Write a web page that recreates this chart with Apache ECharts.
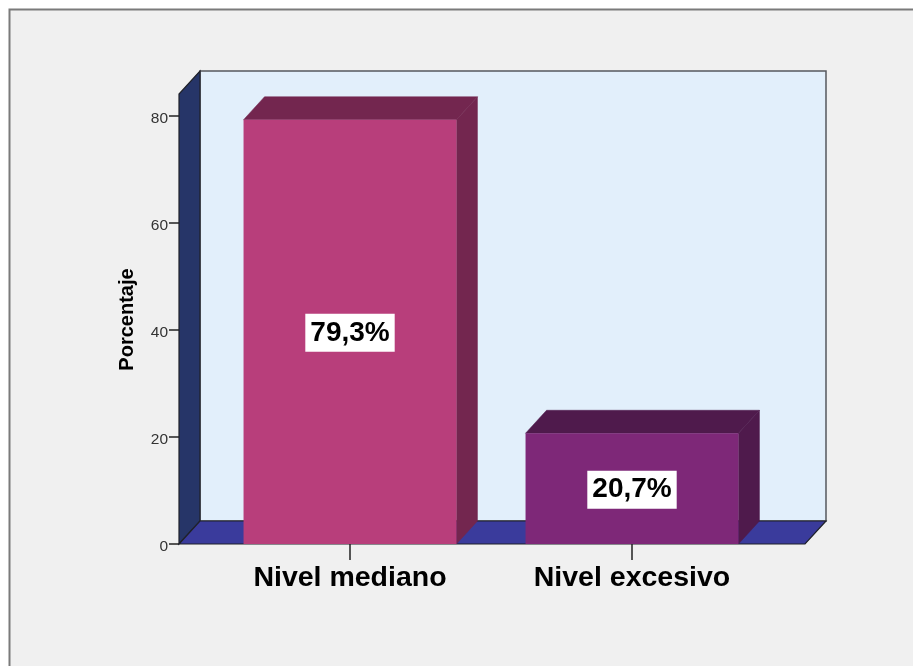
<!DOCTYPE html>
<html>
<head>
<meta charset="utf-8">
<style>html,body{margin:0;padding:0;background:#fff}#c{width:913px;height:666px}</style>
<script src="https://cdn.jsdelivr.net/npm/echarts@6/dist/echarts.min.js"></script>
</head>
<body>
<div id="c"></div>
<script>
const categories = ['Nivel mediano', 'Nivel excesivo'];
const percentages = [79.3, 20.7];
const percentLabels = ['79,3%', '20,7%'];
const frontColors = ['#b83e7b', '#7e2878'];
const shadeColors = ['#73264f', '#4f1a4c'];
const yTicks = [0, 20, 40, 60, 80];
const wallTop = 84.1;

const DX = 21, DY = 23, FONT = '"Liberation Sans", Arial, sans-serif';
const chart = echarts.init(document.getElementById('c'), null, {renderer: 'canvas'});

function poly(points, fill, stroke, lw) {
  return {type: 'polygon', shape: {points}, style: {fill, stroke: stroke || null, lineWidth: lw || 0}};
}

function renderWalls(params, api) {
  const cs = params.coordSys;
  const l = cs.x - 30, r = cs.x + cs.width + 32;
  const y0 = api.coord([0, 0])[1];
  const yT = api.coord([0, api.value(0)])[1];
  const edge = '#1f2129';
  return {type: 'group', children: [
    poly([[l + DX, yT - DY], [r + DX, yT - DY], [r + DX, y0 - DY], [l + DX, y0 - DY]], '#e2effb', '#55585e', 1.5),
    poly([[l, y0], [l + DX, y0 - DY], [l + DX, yT - DY], [l, yT]], '#263568', edge, 1.2),
    poly([[l, y0], [r, y0], [r + DX, y0 - DY], [l + DX, y0 - DY]], '#3a3b9c', edge, 1.2)
  ]};
}

function renderBar(params, api) {
  const i = api.value(0);
  const v = api.value(1);
  const top = api.coord([i, v]);
  const base = api.coord([i, 0]);
  const w = api.size([1, 0])[0] * 0.755;
  const l = top[0] - w / 2, r = top[0] + w / 2;
  return {type: 'group', children: [
    poly([[l, top[1]], [l + DX, top[1] - DY], [r + DX, top[1] - DY], [r, top[1]]], shadeColors[i], shadeColors[i], 0.5),
    poly([[r, top[1]], [r + DX, top[1] - DY], [r + DX, base[1] - DY], [r, base[1]]], shadeColors[i], shadeColors[i], 0.5),
    {type: 'rect', shape: {x: l, y: top[1], width: w, height: base[1] - top[1]}, style: {fill: frontColors[i]}},
    {type: 'text', x: top[0], y: (top[1] + base[1]) / 2 + 1, style: {
      text: percentLabels[i], fill: '#000', font: 'bold 28px ' + FONT,
      align: 'center', verticalAlign: 'middle',
      backgroundColor: '#fff', padding: [7, 5, 3, 5]
    }}
  ]};
}

chart.setOption({
  animation: false,
  backgroundColor: '#ffffff',
  graphic: [{
    type: 'rect', z: -10, silent: true,
    shape: {x: 9.5, y: 9.5, width: 920, height: 680},
    style: {fill: '#f0f0f0', stroke: '#7a7a7a', lineWidth: 2}
  }],
  grid: {left: 209, right: 140, top: 116, bottom: 122},
  xAxis: {
    type: 'category', data: categories,
    axisLine: {show: false},
    axisTick: {show: true, alignWithLabel: true, length: 16, lineStyle: {color: '#222', width: 1.5}},
    axisLabel: {color: '#000', fontFamily: FONT, fontWeight: 'bold', fontSize: 28.5, margin: 20}
  },
  yAxis: {
    type: 'value', min: yTicks[0], max: yTicks[yTicks.length - 1], interval: yTicks[1] - yTicks[0],
    offset: 30,
    name: 'Porcentaje', nameLocation: 'middle', nameGap: 42, nameRotate: 90,
    nameTextStyle: {color: '#000', fontFamily: FONT, fontWeight: 'bold', fontSize: 20, padding: [0, 0, 0, 21]},
    splitLine: {show: false},
    axisLine: {show: false},
    axisTick: {show: true, length: 10, lineStyle: {color: '#222', width: 1.5}},
    axisLabel: {
      margin: 11,
      formatter: '{t|{value}}',
      rich: {t: {color: '#333', fontFamily: FONT, fontSize: 15.5, padding: [6, 0, 0, 0]}}
    }
  },
  series: [
    {type: 'custom', name: 'walls', renderItem: renderWalls, data: [[wallTop]], encode: {y: 0}, silent: true, z: 1, clip: false},
    {type: 'custom', name: 'Porcentaje', renderItem: renderBar,
     data: percentages.map((p, i) => [i, p]), encode: {x: 0, y: 1}, z: 2, clip: false}
  ]
});
</script>
</body>
</html>
